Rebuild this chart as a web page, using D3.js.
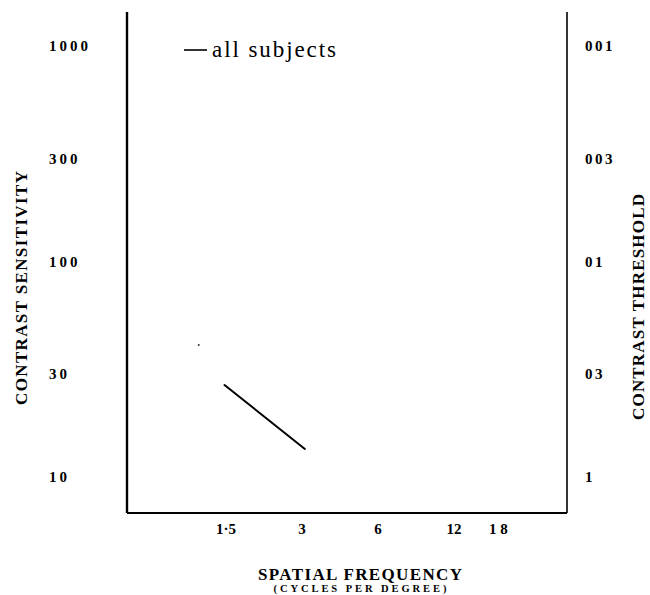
<!DOCTYPE html>
<html><head><meta charset="utf-8">
<script src="https://cdn.jsdelivr.net/npm/d3@7"></script>
<style>body{margin:0;background:#fff}svg{display:block}</style>
</head><body>
<script>
const freq = [1.48, 3.08];
const sensitivity = [26.7, 13.5];
const speckFreq = [1.17];
const speckSens = [41];
const xTicks = [1.5, 3, 6, 12, 18];
const xTickLabels = ["1·5", "3", "6", "12", "1 8"];
const yTicks = [1000, 300, 100, 30, 10];
const yTickLabels = ["1000", "300", "100", "30", "10"];
const rTickLabels = ["001", "003", "01", "03", "1"];
const seriesName = "all subjects";

const W = 650, H = 595;
const svg = d3.select("body").append("svg").attr("width", W).attr("height", H);
const pLeft = 127, pRight = 567, pTop = 12, pBottom = 513;

const x = d3.scaleLog().domain([3, 6]).range([302, 378]);
const y = d3.scaleLog().domain([10, 1000]).range([477, 46]);

const serif = "'Liberation Serif','DejaVu Serif',serif";

// frame
svg.append("line").attr("x1", pLeft).attr("x2", pLeft).attr("y1", pTop).attr("y2", pBottom).attr("stroke", "#000").attr("stroke-width", 2.4);
svg.append("line").attr("x1", pRight).attr("x2", pRight).attr("y1", pTop).attr("y2", pBottom).attr("stroke", "#000").attr("stroke-width", 1.6);
svg.append("line").attr("x1", pLeft).attr("x2", pRight).attr("y1", pBottom).attr("y2", pBottom).attr("stroke", "#000").attr("stroke-width", 2.2);

// left labels
svg.selectAll(".yl").data(yTicks).enter().append("text")
  .attr("x", 49).attr("y", d => y(d)).attr("dy", "0.35em")
  .attr("font-family", serif).attr("font-size", 15).attr("font-weight", "bold")
  .attr("letter-spacing", 3)
  .text((d, i) => yTickLabels[i]);
// right labels
svg.selectAll(".rl").data(yTicks).enter().append("text")
  .attr("x", 585).attr("y", d => y(d)).attr("dy", "0.35em")
  .attr("font-family", serif).attr("font-size", 15).attr("font-weight", "bold")
  .attr("letter-spacing", 2.5)
  .text((d, i) => rTickLabels[i]);
// x labels
svg.selectAll(".xl").data(xTicks).enter().append("text")
  .attr("x", d => x(d)).attr("y", 529).attr("dy", "0.35em").attr("text-anchor", "middle")
  .attr("font-family", serif).attr("font-size", 15).attr("font-weight", "bold")
  .text((d, i) => xTickLabels[i]);

// axis titles
svg.append("text").attr("transform", "translate(27,288) rotate(-90)").attr("text-anchor", "middle")
  .attr("font-family", serif).attr("font-size", 17).attr("font-weight", "bold")
  .attr("textLength", 234).attr("lengthAdjust", "spacing")
  .text("CONTRAST  SENSITIVITY");
svg.append("text").attr("transform", "translate(644,307) rotate(-90)").attr("text-anchor", "middle")
  .attr("font-family", serif).attr("font-size", 17).attr("font-weight", "bold")
  .attr("textLength", 226).attr("lengthAdjust", "spacing")
  .text("CONTRAST  THRESHOLD");
svg.append("text").attr("x", 360).attr("y", 580).attr("text-anchor", "middle")
  .attr("font-family", serif).attr("font-size", 17).attr("font-weight", "bold")
  .attr("textLength", 204).attr("lengthAdjust", "spacing")
  .text("SPATIAL  FREQUENCY");
svg.append("text").attr("x", 360).attr("y", 592).attr("text-anchor", "middle")
  .attr("font-family", serif).attr("font-size", 10.5).attr("font-weight", "bold")
  .attr("textLength", 173).attr("lengthAdjust", "spacing")
  .text("(CYCLES PER DEGREE)");

// data
const pts = freq.map((f, i) => [f, sensitivity[i]]);
svg.append("path").datum(pts)
  .attr("d", d3.line().x(d => x(d[0])).y(d => y(d[1])))
  .attr("fill", "none").attr("stroke", "#000").attr("stroke-width", 2).attr("stroke-linecap", "round");
svg.selectAll(".sp").data(speckFreq).enter().append("circle")
  .attr("cx", d => x(d)).attr("cy", (d, i) => y(speckSens[i])).attr("r", 1).attr("fill", "#333");

// legend
svg.append("line").attr("x1", 184).attr("x2", 207).attr("y1", 50).attr("y2", 50).attr("stroke", "#000").attr("stroke-width", 1.6);
svg.append("text").attr("x", 212).attr("y", 57)
  .attr("font-family", serif).attr("font-size", 23)
  .attr("textLength", 124).attr("lengthAdjust", "spacing")
  .text(seriesName);
</script>
</body></html>
